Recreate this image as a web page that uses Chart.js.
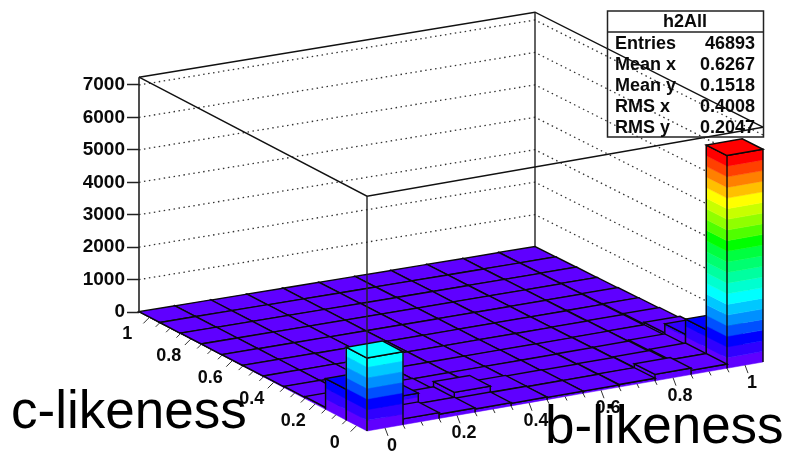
<!DOCTYPE html>
<html>
<head>
<meta charset="utf-8">
<title>h2All</title>
<script src="https://cdn.jsdelivr.net/npm/chart.js@4/dist/chart.umd.js"></script>
<style>
  html, body { margin: 0; padding: 0; background: #fff; }
  canvas { display: block; filter: blur(0.4px); }
</style>
</head>
<body>
<canvas id="lego" width="786" height="451"></canvas>
<script>
// bin centres of the 2D histogram
const bLikeness = [0, 0.1, 0.2, 0.3, 0.4, 0.5, 0.6, 0.7, 0.8, 0.9, 1];
const cLikeness = [0, 0.1, 0.2, 0.3, 0.4, 0.5, 0.6, 0.7, 0.8, 0.9, 1];

// entries per bin, one row per c-likeness bin
const countsC00 = [2250, 180, 130, 100, 80, 70, 70, 80, 200, 130, 6560];
const countsC01 = [950, 450, 120, 280, 90, 70, 60, 70, 90, 130, 870];
const countsC02 = [60, 50, 50, 40, 40, 40, 40, 50, 60, 90, 400];
const countsC03 = [40, 30, 30, 30, 30, 30, 30, 30, 40, 50, 120];
const countsC04 = [30, 25, 20, 20, 20, 20, 20, 20, 30, 40, 70];
const countsC05 = [25, 20, 15, 15, 15, 15, 15, 20, 20, 30, 50];
const countsC06 = [20, 15, 15, 10, 10, 10, 15, 15, 20, 25, 40];
const countsC07 = [15, 15, 10, 10, 10, 10, 10, 15, 15, 20, 30];
const countsC08 = [15, 10, 10, 10, 10, 10, 10, 10, 15, 15, 25];
const countsC09 = [10, 10, 10, 5, 5, 5, 10, 10, 10, 15, 20];
const countsC10 = [10, 10, 5, 5, 5, 5, 5, 10, 10, 10, 15];
const countRows = [countsC00, countsC01, countsC02, countsC03, countsC04, countsC05,
  countsC06, countsC07, countsC08, countsC09, countsC10];

const zTicks = [0, 1000, 2000, 3000, 4000, 5000, 6000, 7000];
const bTicks = [0, 0.2, 0.4, 0.6, 0.8, 1];
const cTicks = [0, 0.2, 0.4, 0.6, 0.8, 1];

const statNames = ['Entries', 'Mean x', 'Mean y', 'RMS x', 'RMS y'];
const statValues = ['46893', '0.6267', '0.1518', '0.4008', '0.2047'];

// colour levels, bottom to top
const bandColors = ['#5f00ff', '#3000ff', '#0000ff', '#0050ff', '#0090ff', '#00c8ff', '#00ffff',
  '#00ffd0', '#00ffa0', '#00ff70', '#00ff40', '#00ff00', '#50ff00', '#90ff00', '#c8ff00',
  '#ffff00', '#ffc000', '#ff8000', '#ff4000', '#ff0000'];

// view of the box on the page
const corner = { front: [367, 431], right: [763, 362], left: [139, 312], back: [535, 247] };
const pxPerCount = 32.43 / 1000;
const zero = 312;
const zTop = 7240;
const axisLow = -0.05, axisHigh = 1.05, binWidth = 0.1;
const inkColor = '#0a0a0a';
const fontFamily = '"Liberation Sans", Arial, sans-serif';

function project(b, c, z) {
  const u = (b - axisLow) / (axisHigh - axisLow);
  const v = (c - axisLow) / (axisHigh - axisLow);
  const mix = (k) => corner.front[k] * (1 - u) * (1 - v) + corner.right[k] * u * (1 - v) +
    corner.left[k] * (1 - u) * v + corner.back[k] * u * v;
  return { x: mix(0), y: z + (zero - mix(1)) / pxPerCount };
}

// painter's order: everything is pushed back to front and reversed at the end
const layers = [];

function addPoly(points, fillColor, lineColor, lineWidth) {
  layers.push({
    data: points.concat([points[0]]),
    showLine: true,
    fill: 'shape',
    backgroundColor: fillColor,
    borderColor: lineColor,
    borderWidth: lineWidth,
    pointRadius: 0,
    clip: false
  });
}

function addLine(points, lineColor, lineWidth, dash) {
  layers.push({
    data: points,
    showLine: true,
    fill: false,
    borderColor: lineColor,
    borderWidth: lineWidth,
    borderDash: dash || [],
    pointRadius: 0,
    clip: false
  });
}

// walls
const low = axisLow, high = axisHigh;
zTicks.slice(1).forEach((z) => {
  addLine([project(low, high, z), project(high, high, z), project(high, low, z)], '#333', 1.3, [1.5, 3.5]);
});
addLine([project(low, high, zTop), project(high, high, zTop), project(high, low, zTop)], '#111', 1.4);
addLine([project(high, high, 0), project(high, high, zTop)], '#222', 1.4);
addLine([project(low, high, zTop), project(low, low, zTop), project(high, low, zTop)], '#111', 1.4);

// lego bars
const maxCount = Math.max(...countRows.map((row) => Math.max(...row)));
const levelSize = maxCount / 20;

for (let j = cLikeness.length - 1; j >= 0; j--) {
  for (let i = bLikeness.length - 1; i >= 0; i--) {
    const h = countRows[j][i];
    const b0 = bLikeness[i] - binWidth / 2, b1 = b0 + binWidth;
    const c0 = cLikeness[j] - binWidth / 2, c1 = c0 + binWidth;
    for (let k = 0; k * levelSize < h; k++) {
      const z0 = k * levelSize, z1 = Math.min((k + 1) * levelSize, h);
      const color = bandColors[k];
      addPoly([project(b0, c1, z0), project(b0, c0, z0), project(b0, c0, z1), project(b0, c1, z1)], color, color, 0.5);
      addPoly([project(b0, c0, z0), project(b1, c0, z0), project(b1, c0, z1), project(b0, c0, z1)], color, color, 0.5);
    }
    addLine([project(b0, c1, 0), project(b0, c1, h), project(b0, c0, h), project(b1, c0, h), project(b1, c0, 0)], inkColor, 1.4);
    addLine([project(b0, c0, 0), project(b0, c0, h)], inkColor, 1.4);
    const topColor = bandColors[Math.min(Math.floor(h / levelSize), 19)];
    addPoly([project(b0, c0, h), project(b1, c0, h), project(b1, c1, h), project(b0, c1, h)], topColor, inkColor, 1.4);
  }
}

// front edge of the box goes over the bars
addLine([project(low, low, 0), project(low, low, zTop)], '#222', 1.4);

// axis line and small ticks
addLine([project(low, high, 0), project(low, high, zTop)], '#222', 1.6);
for (let z = 200; z < 7200; z += 200) {
  if (z % 1000 === 0) continue;
  const p = project(low, high, z);
  addLine([{ x: Math.max(p.x, 139), y: p.y }, p], '#333', 1);
}

const chart = new Chart(document.getElementById('lego'), {
  type: 'scatter',
  data: { datasets: layers.reverse() },
  options: {
    responsive: false,
    animation: false,
    events: [],
    layout: { padding: 0 },
    plugins: { legend: { display: false }, tooltip: { enabled: false } },
    scales: {
      x: { type: 'linear', min: 139, max: 786, display: false },
      y: {
        type: 'linear',
        position: 'left',
        min: (zero - 451) / pxPerCount,
        max: zero / pxPerCount,
        afterFit(scale) {
          scale.width = 139;
          scale.paddingTop = 0;
          scale.paddingBottom = 0;
        },
        afterBuildTicks(scale) { scale.ticks = zTicks.map((value) => ({ value })); },
        border: { display: false },
        grid: { drawOnChartArea: false, drawTicks: true, tickLength: 12, tickColor: '#222', tickWidth: 1.5 },
        ticks: {
          padding: 2,
          color: inkColor,
          autoSkip: false,
          font: { family: fontFamily, size: 19, weight: 'bold' },
          callback: (v) => String(v)
        }
      }
    }
  },
  plugins: [{
    id: 'legoText',
    afterDraw(c) {
      const ctx = c.ctx, sx = c.scales.x, sy = c.scales.y;
      const at = (p) => [sx.getPixelForValue(p.x), sy.getPixelForValue(p.y)];
      const seg = (x0, y0, x1, y1, w) => {
        ctx.lineWidth = w;
        ctx.beginPath();
        ctx.moveTo(x0, y0);
        ctx.lineTo(x1, y1);
        ctx.stroke();
      };

      ctx.save();
      ctx.strokeStyle = '#333';
      // floor axis ticks
      for (let t = 0; t <= 20; t++) {
        const v = t * 0.05, major = t % 4 === 0;
        const [bx, by] = at(project(v, low, 0));
        seg(bx, by, bx + (major ? 3 : 2), by + (major ? 8 : 4), 1);
        const [cx, cy] = at(project(low, v, 0));
        seg(cx, cy, cx - (major ? 6 : 4), cy + (major ? 6 : 4), 1);
      }

      // floor axis labels
      ctx.fillStyle = inkColor;
      ctx.font = 'bold 18px ' + fontFamily;
      ctx.textAlign = 'center';
      ctx.textBaseline = 'middle';
      bTicks.forEach((v) => {
        const [x, y] = at(project(v, low, 0));
        ctx.fillText(String(v), x + 7, y + 18);
      });
      cTicks.forEach((v) => {
        const [x, y] = at(project(low, v, 0));
        ctx.fillText(String(v), x - 22, y + 17);
      });

      // stats box
      ctx.strokeStyle = '#222';
      ctx.lineWidth = 1.5;
      ctx.strokeRect(607.5, 11, 156, 126);
      seg(607.5, 32, 763.5, 32, 1.5);
      ctx.fillText('h2All', 685, 22);
      statNames.forEach((name, i) => {
        const y = 44 + i * 21;
        ctx.textAlign = 'left';
        ctx.fillText(name, 615, y);
        ctx.textAlign = 'right';
        ctx.fillText(statValues[i], 755, y);
      });

      // axis titles
      ctx.font = '53px ' + fontFamily;
      ctx.fillStyle = '#000';
      ctx.textAlign = 'left';
      ctx.textBaseline = 'alphabetic';
      ctx.fillText('c-likeness', 11, 428);
      ctx.fillText('b-likeness', 545, 443);
      ctx.restore();
    }
  }]
});
</script>
</body>
</html>
